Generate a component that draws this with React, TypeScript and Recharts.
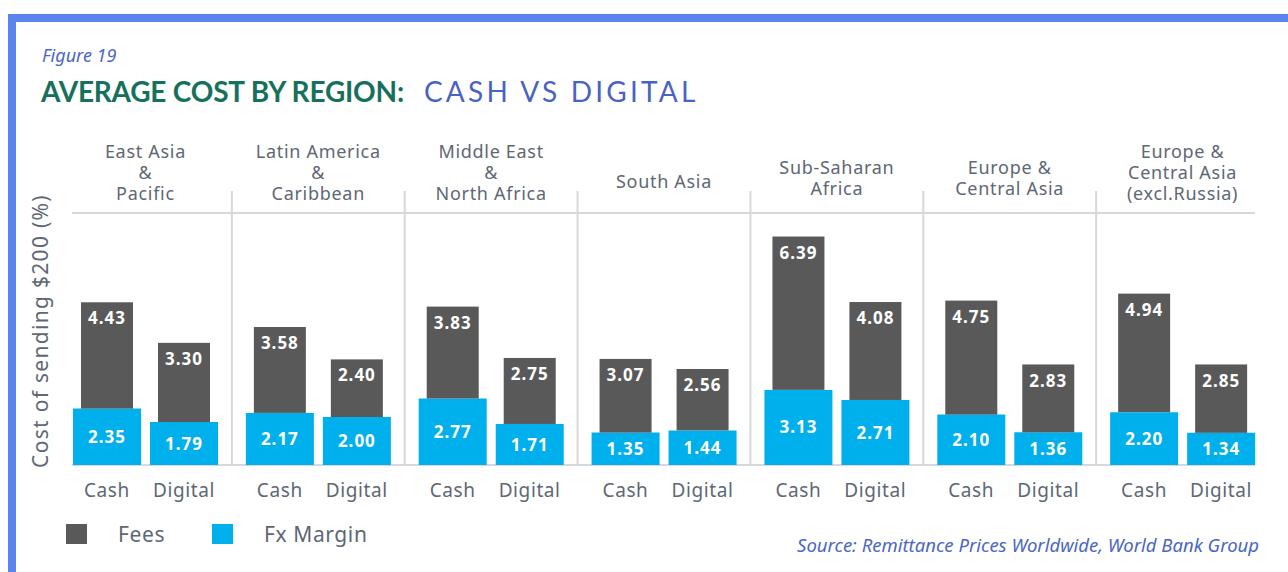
import { type ReactElement } from 'react';
import { Bar, BarChart, LabelList, XAxis, YAxis, usePlotArea } from 'recharts';

const regions = [
    'East Asia\n&\nPacific',
    'Latin America\n&\nCaribbean',
    'Middle East\n&\nNorth Africa',
    'South Asia',
    'Sub-Saharan\nAfrica',
    'Europe &\nCentral Asia',
    'Europe &\nCentral Asia\n(excl.Russia)',
];
const cashFx = [2.35, 2.17, 2.77, 1.35, 3.13, 2.1, 2.2];
const cashFees = [4.43, 3.58, 3.83, 3.07, 6.39, 4.75, 4.94];
const digitalFx = [1.79, 2.0, 1.71, 1.44, 2.71, 1.36, 1.34];
const digitalFees = [3.3, 2.4, 2.75, 2.56, 4.08, 2.83, 2.85];
const channelLabels = ['Cash', 'Digital'];
const legendItems = ['Fees', 'Fx Margin'];

const FEES_COLOR = '#595959';
const FX_COLOR = '#00B0EC';
const GRID_COLOR = '#D5D8DD';
const TEXT_GRAY = '#5E6775';
const FONT = '"Noto Sans", "Open Sans", sans-serif';

const chartData = regions.map((region, i) => ({
    region,
    cashFx: cashFx[i],
    cashFees: cashFees[i],
    digitalFx: digitalFx[i],
    digitalFees: digitalFees[i],
}));

// fees bars sit narrower on top of the fx margin bars
function FeesShape(props: any): ReactElement {
    const { x, y, width, height } = props;
    return <rect x={x + 8} y={y} width={Math.max(width - 16, 0)} height={height} fill={FEES_COLOR} />;
}

function GroupLines(): ReactElement | null {
    const area = usePlotArea();
    if (!area) return null;
    const band = area.width / regions.length;
    const left = area.x + 13;
    const right = area.x + area.width - 14;
    const bottom = area.y + area.height;
    return (
        <g>
            <line x1={left} x2={right} y1={area.y} y2={area.y} stroke={GRID_COLOR} strokeWidth={2} />
            <line x1={left} x2={right} y1={bottom} y2={bottom} stroke={GRID_COLOR} strokeWidth={2} />
            {regions.slice(1).map((_, i) => (
                <line
                    key={i}
                    x1={area.x + band * (i + 1)}
                    x2={area.x + band * (i + 1)}
                    y1={area.y - 22}
                    y2={bottom}
                    stroke={GRID_COLOR}
                    strokeWidth={2}
                />
            ))}
        </g>
    );
}

function RegionTick(props: any): ReactElement {
    const { x, payload } = props;
    const lines = String(payload.value).split('\n');
    const startY = lines.length === 3 ? 158 : lines.length === 2 ? 174 : 188;
    return (
        <g>
            {lines.map((line, i) => (
                <text
                    key={i}
                    x={x}
                    y={startY + i * 21}
                    textAnchor="middle"
                    fill={TEXT_GRAY}
                    fontSize={18}
                    fontFamily={FONT}
                    letterSpacing={0.7}
                >
                    {line}
                </text>
            ))}
        </g>
    );
}

function ChannelTick(props: any): ReactElement {
    const { x } = props;
    return (
        <g>
            {channelLabels.map((label, i) => (
                <text
                    key={label}
                    x={x + (i === 0 ? -38.5 : 38.5)}
                    y={497}
                    textAnchor="middle"
                    fill={TEXT_GRAY}
                    fontSize={19}
                    fontFamily={FONT}
                    letterSpacing={0.6}
                >
                    {label}
                </text>
            ))}
        </g>
    );
}

const labelStyle = { fill: '#FFFFFF', fontSize: 17, fontWeight: 700, fontFamily: FONT, letterSpacing: 1 };
const fmt = (v: any) => Number(v).toFixed(2);

export default function App(): ReactElement {
    return (
        <div style={{ position: 'absolute', left: 0, top: 0, width: 1288, height: 572, background: '#FFFFFF', overflow: 'hidden' }}>
            <div
                style={{
                    position: 'absolute',
                    left: 8,
                    top: 14,
                    right: 0,
                    bottom: 0,
                    borderTop: '8px solid #5B84EE',
                    borderLeft: '8px solid #5B84EE',
                }}
            />
            <div
                style={{
                    position: 'absolute',
                    left: 42,
                    top: 43,
                    fontFamily: FONT,
                    fontStyle: 'italic',
                    fontSize: 18,
                    color: '#4A66C6',
                }}
            >
                Figure 19
            </div>
            <div style={{ position: 'absolute', left: 41, top: 74, whiteSpace: 'nowrap', fontFamily: 'Lato, sans-serif', fontSize: 28 }}>
                <span style={{ fontWeight: 700, color: '#16705C', letterSpacing: -0.2 }}>AVERAGE COST BY REGION:</span>
                <span style={{ marginLeft: 20, color: '#4A62C2', letterSpacing: 3.2 }}>CASH VS DIGITAL</span>
            </div>
            <div style={{ position: 'absolute', left: 0, top: 0 }}>
                <BarChart
                    width={1288}
                    height={572}
                    data={chartData}
                    margin={{ top: 193, right: 19, bottom: 67, left: 0 }}
                    barSize={68}
                    barGap={9}
                >
                    <GroupLines />
                    <XAxis
                        xAxisId="top"
                        orientation="top"
                        dataKey="region"
                        axisLine={false}
                        tickLine={false}
                        height={20}
                        tick={<RegionTick />}
                        interval={0}
                    />
                    <XAxis
                        dataKey="region"
                        axisLine={false}
                        tickLine={false}
                        height={40}
                        tick={<ChannelTick />}
                        interval={0}
                    />
                    <YAxis
                        domain={[0, 10.5]}
                        width={59}
                        tick={false}
                        axisLine={false}
                        tickLine={false}
                        allowDataOverflow
                        label={{
                            value: 'Cost of sending $200 (%)',
                            angle: -90,
                            position: 'center',
                            dx: 11,
                            dy: -8,
                            style: { fill: TEXT_GRAY, fontSize: 21, fontFamily: FONT, letterSpacing: 1.3 },
                        }}
                    />
                    <Bar dataKey="cashFx" name="Fx Margin" stackId="cash" fill={FX_COLOR} isAnimationActive={false}>
                        <LabelList dataKey="cashFx" position="center" formatter={fmt} style={labelStyle} />
                    </Bar>
                    <Bar dataKey="cashFees" name="Fees" stackId="cash" fill={FEES_COLOR} shape={<FeesShape />} isAnimationActive={false}>
                        <LabelList dataKey="cashFees" position="insideTop" offset={10} formatter={fmt} style={labelStyle} />
                    </Bar>
                    <Bar dataKey="digitalFx" name="Fx Margin" stackId="digital" fill={FX_COLOR} isAnimationActive={false}>
                        <LabelList dataKey="digitalFx" position="center" formatter={fmt} style={labelStyle} />
                    </Bar>
                    <Bar dataKey="digitalFees" name="Fees" stackId="digital" fill={FEES_COLOR} shape={<FeesShape />} isAnimationActive={false}>
                        <LabelList dataKey="digitalFees" position="insideTop" offset={10} formatter={fmt} style={labelStyle} />
                    </Bar>
                </BarChart>
            </div>
            <div style={{ position: 'absolute', left: 66, top: 524, display: 'flex', alignItems: 'center', fontFamily: FONT }}>
                {legendItems.map((name, i) => (
                    <div key={name} style={{ display: 'flex', alignItems: 'center', width: 146, whiteSpace: 'nowrap' }}>
                        <span
                            style={{ width: 21, height: 20, flex: 'none', background: i === 0 ? FEES_COLOR : FX_COLOR, display: 'inline-block' }}
                        />
                        <span style={{ marginLeft: 31, fontSize: 21, color: TEXT_GRAY, letterSpacing: 0.6, lineHeight: '20px' }}>{name}</span>
                    </div>
                ))}
            </div>
            <div
                style={{
                    position: 'absolute',
                    right: 29,
                    top: 532,
                    fontFamily: FONT,
                    fontStyle: 'italic',
                    fontSize: 18.5,
                    color: '#4A66C6',
                    whiteSpace: 'nowrap',
                }}
            >
                Source: Remittance Prices Worldwide, World Bank Group
            </div>
        </div>
    );
}
